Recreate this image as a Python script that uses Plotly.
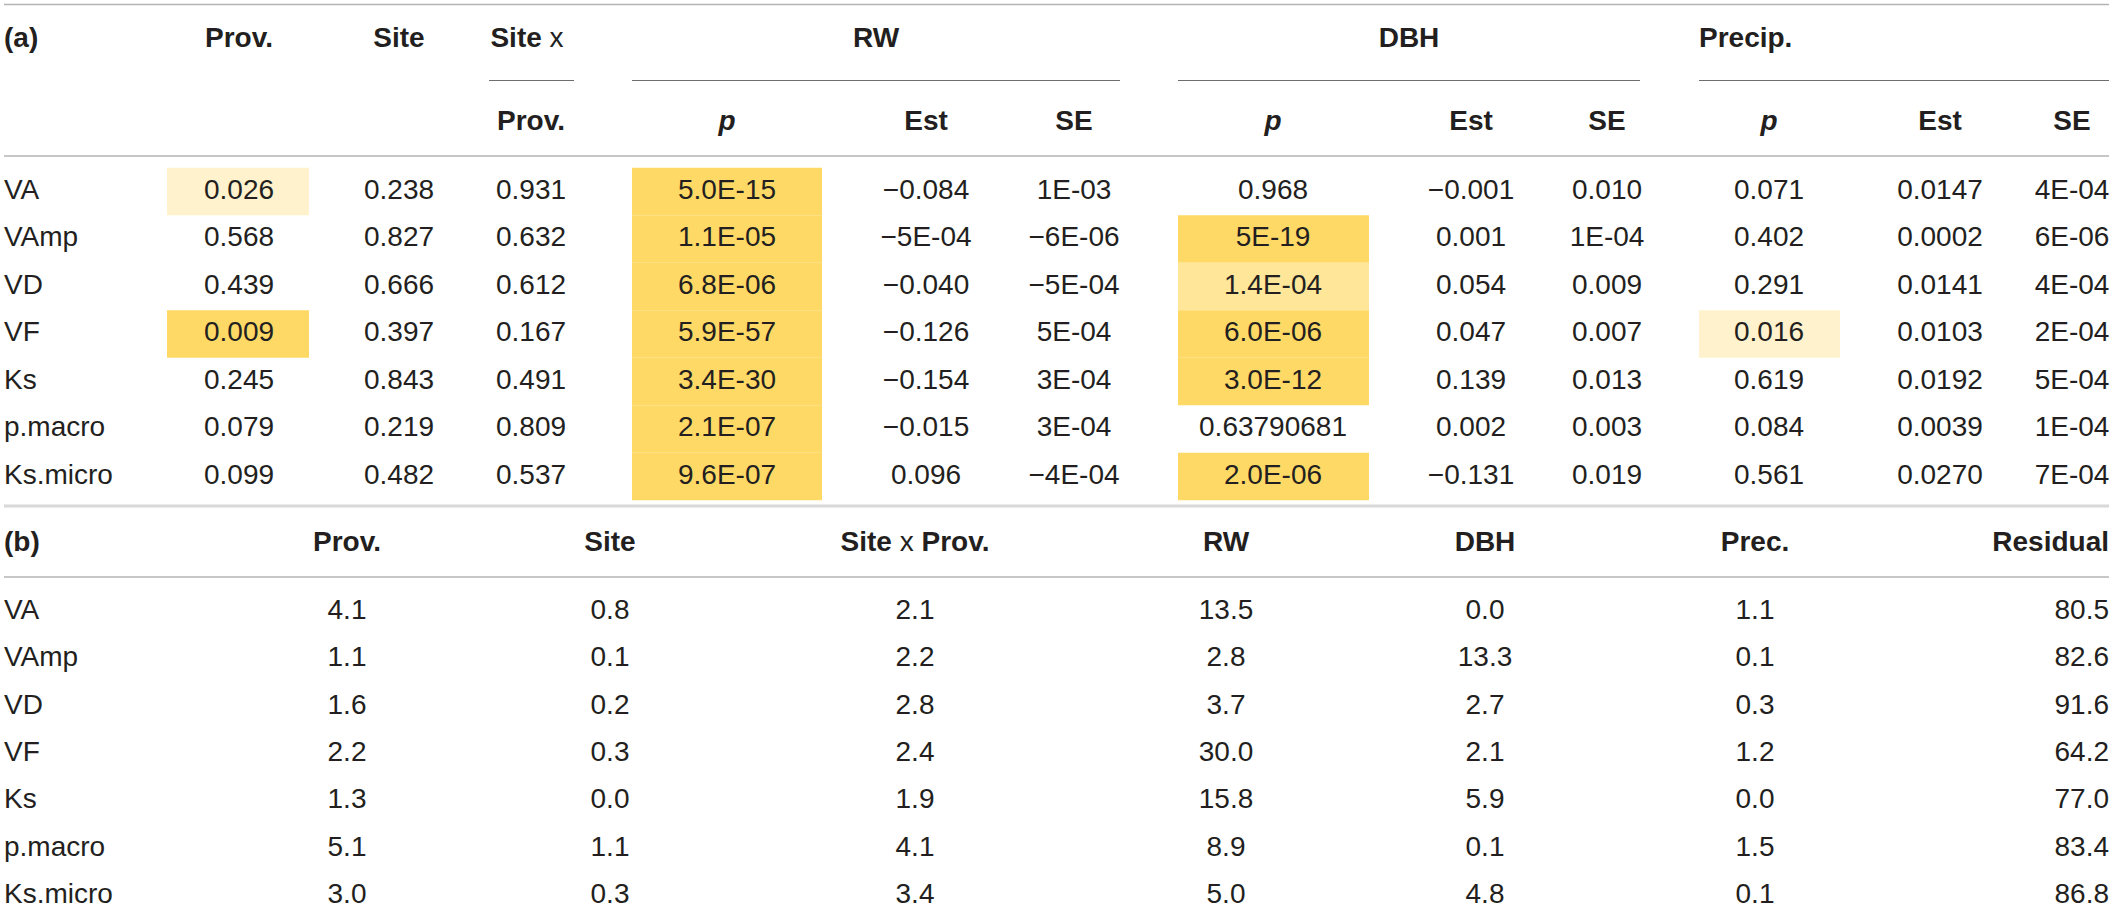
import plotly.graph_objects as go

# ---- table (a): p-values and estimates ----
traits = ["VA", "VAmp", "VD", "VF", "Ks", "p.macro", "Ks.micro"]

prov_p = ["0.026", "0.568", "0.439", "0.009", "0.245", "0.079", "0.099"]
site_p = ["0.238", "0.827", "0.666", "0.397", "0.843", "0.219", "0.482"]
site_prov_p = ["0.931", "0.632", "0.612", "0.167", "0.491", "0.809", "0.537"]

rw_p = ["5.0E-15", "1.1E-05", "6.8E-06", "5.9E-57", "3.4E-30", "2.1E-07", "9.6E-07"]
rw_est = ["−0.084", "−5E-04", "−0.040", "−0.126", "−0.154", "−0.015", "0.096"]
rw_se = ["1E-03", "−6E-06", "−5E-04", "5E-04", "3E-04", "3E-04", "−4E-04"]

dbh_p = ["0.968", "5E-19", "1.4E-04", "6.0E-06", "3.0E-12", "0.63790681", "2.0E-06"]
dbh_est = ["−0.001", "0.001", "0.054", "0.047", "0.139", "0.002", "−0.131"]
dbh_se = ["0.010", "1E-04", "0.009", "0.007", "0.013", "0.003", "0.019"]

prec_p = ["0.071", "0.402", "0.291", "0.016", "0.619", "0.084", "0.561"]
prec_est = ["0.0147", "0.0002", "0.0141", "0.0103", "0.0192", "0.0039", "0.0270"]
prec_se = ["4E-04", "6E-06", "4E-04", "2E-04", "5E-04", "1E-04", "7E-04"]

# highlight level per cell: 0 none, 1 light, 2 medium, 3 strong
prov_hl = [1, 0, 0, 3, 0, 0, 0]
rw_hl = [3, 3, 3, 3, 3, 3, 3]
dbh_hl = [0, 3, 2, 3, 3, 0, 3]
prec_hl = [0, 0, 0, 1, 0, 0, 0]

# ---- table (b): variance explained (%) ----
b_prov = [4.1, 1.1, 1.6, 2.2, 1.3, 5.1, 3.0]
b_site = [0.8, 0.1, 0.2, 0.3, 0.0, 1.1, 0.3]
b_site_prov = [2.1, 2.2, 2.8, 2.4, 1.9, 4.1, 3.4]
b_rw = [13.5, 2.8, 3.7, 30.0, 15.8, 8.9, 5.0]
b_dbh = [0.0, 13.3, 2.7, 2.1, 5.9, 0.1, 4.8]
b_prec = [1.1, 0.1, 0.3, 1.2, 0.0, 1.5, 0.1]
b_resid = [80.5, 82.6, 91.6, 64.2, 77.0, 83.4, 86.8]

W, H = 2113, 911
FONT = "Liberation Sans, Arial, Helvetica, sans-serif"
TXT = "#231f20"
HL_COLORS = {1: "#fff2cc", 2: "#ffe699", 3: "#ffd966"}

# layout (pixel units on the axes)
LEFT = 4
RIGHT = 2109
A_HEAD1, A_SUBLINE, A_HEAD2, A_LINE = 40, 80.5, 123, 156
A_ROW0, ROW_STEP = 191.5, 47.5
SEP = 506
B_HEAD, B_LINE, B_ROW0, B_STEP = 544, 577, 612, 47.3

a_cols = {"prov": 239, "site": 399, "sxp": 531,
          "rw_p": 727, "rw_est": 926, "rw_se": 1074,
          "dbh_p": 1273, "dbh_est": 1471, "dbh_se": 1607,
          "prec_p": 1769, "prec_est": 1940, "prec_se": 2072}
hl_boxes = {"prov": (167, 309), "rw_p": (632, 822), "dbh_p": (1178, 1369), "prec_p": (1699, 1840)}
b_cols = {"prov": 347, "site": 610, "sxp": 915, "rw": 1226, "dbh": 1485, "prec": 1755}

a_rows = [A_ROW0 + i * ROW_STEP for i in range(len(traits))]
b_rows = [B_ROW0 + i * B_STEP for i in range(len(traits))]

fig = go.Figure()


def add_text(xs, ys, texts, pos="middle center", bold=False):
    fig.add_trace(go.Scatter(
        x=xs, y=ys, text=texts, mode="text", textposition=pos,
        textfont=dict(family=FONT, size=28, color=TXT, weight="bold" if bold else "normal"),
        hoverinfo="skip", showlegend=False,
    ))


# highlighted cells
shapes = []
for key, levels in [("prov", prov_hl), ("rw_p", rw_hl), ("dbh_p", dbh_hl), ("prec_p", prec_hl)]:
    x0, x1 = hl_boxes[key]
    for y, lv in zip(a_rows, levels):
        if lv:
            shapes.append(dict(type="rect", xref="x", yref="y", x0=x0, x1=x1,
                               y0=y - ROW_STEP / 2, y1=y + ROW_STEP / 2,
                               fillcolor=HL_COLORS[lv], line=dict(width=0), layer="below"))

# rules
def hline(y, x0, x1, color, width):
    shapes.append(dict(type="line", xref="x", yref="y", x0=x0, x1=x1, y0=y, y1=y,
                       line=dict(color=color, width=width), layer="above"))

hline(4.5, LEFT, RIGHT, "#b4b4b4", 1.5)
for x0, x1 in [(489, 574), (632, 1120), (1178, 1640), (1699, RIGHT)]:
    hline(A_SUBLINE, x0, x1, "#6e6e6e", 1.2)
hline(A_LINE, LEFT, RIGHT, "#b4b4b4", 1.5)
hline(SEP, LEFT, RIGHT, "#d8d8d8", 3)
hline(B_LINE, LEFT, RIGHT, "#b4b4b4", 1.5)

# (a) headers
add_text([LEFT], [A_HEAD1], ["(a)"], pos="middle right", bold=True)
add_text([a_cols["prov"], a_cols["site"], 876, 1409],
         [A_HEAD1] * 4, ["Prov.", "Site", "RW", "DBH"], bold=True)
add_text([527], [A_HEAD1], ["<b>Site</b> x"])
add_text([1699], [A_HEAD1], ["Precip."], pos="middle right", bold=True)
sub_keys = ["sxp", "rw_p", "rw_est", "rw_se", "dbh_p", "dbh_est", "dbh_se", "prec_p", "prec_est", "prec_se"]
sub_labels = ["Prov.", "<i>p</i>", "Est", "SE", "<i>p</i>", "Est", "SE", "<i>p</i>", "Est", "SE"]
add_text([a_cols[k] for k in sub_keys], [A_HEAD2] * len(sub_keys), sub_labels, bold=True)

# (a) body
add_text([LEFT] * len(traits), a_rows, traits, pos="middle right")
for key, vals in [("prov", prov_p), ("site", site_p), ("sxp", site_prov_p),
                  ("rw_p", rw_p), ("rw_est", rw_est), ("rw_se", rw_se),
                  ("dbh_p", dbh_p), ("dbh_est", dbh_est), ("dbh_se", dbh_se),
                  ("prec_p", prec_p), ("prec_est", prec_est), ("prec_se", prec_se)]:
    add_text([a_cols[key]] * len(vals), a_rows, vals)

# (b) headers
add_text([LEFT], [B_HEAD], ["(b)"], pos="middle right", bold=True)
add_text([b_cols[k] for k in ["prov", "site", "rw", "dbh", "prec"]], [B_HEAD] * 5,
         ["Prov.", "Site", "RW", "DBH", "Prec."], bold=True)
add_text([b_cols["sxp"]], [B_HEAD], ["<b>Site</b> x <b>Prov.</b>"])
add_text([RIGHT], [B_HEAD], ["Residual"], pos="middle left", bold=True)

# (b) body
add_text([LEFT] * len(traits), b_rows, traits, pos="middle right")
for key, vals in [("prov", b_prov), ("site", b_site), ("sxp", b_site_prov),
                  ("rw", b_rw), ("dbh", b_dbh), ("prec", b_prec)]:
    add_text([b_cols[key]] * len(vals), b_rows, [f"{v:.1f}" for v in vals])
add_text([RIGHT] * len(b_resid), b_rows, [f"{v:.1f}" for v in b_resid], pos="middle left")

fig.update_layout(
    width=W, height=H,
    margin=dict(l=0, r=0, t=0, b=0),
    paper_bgcolor="white", plot_bgcolor="white",
    xaxis=dict(range=[0, W], visible=False, fixedrange=True),
    yaxis=dict(range=[H, 0], visible=False, fixedrange=True),
    shapes=shapes,
    showlegend=False,
)

fig.write_html("out.html", config={"displayModeBar": False},
               post_script="document.body.style.margin='0';document.body.style.overflow='hidden';")
